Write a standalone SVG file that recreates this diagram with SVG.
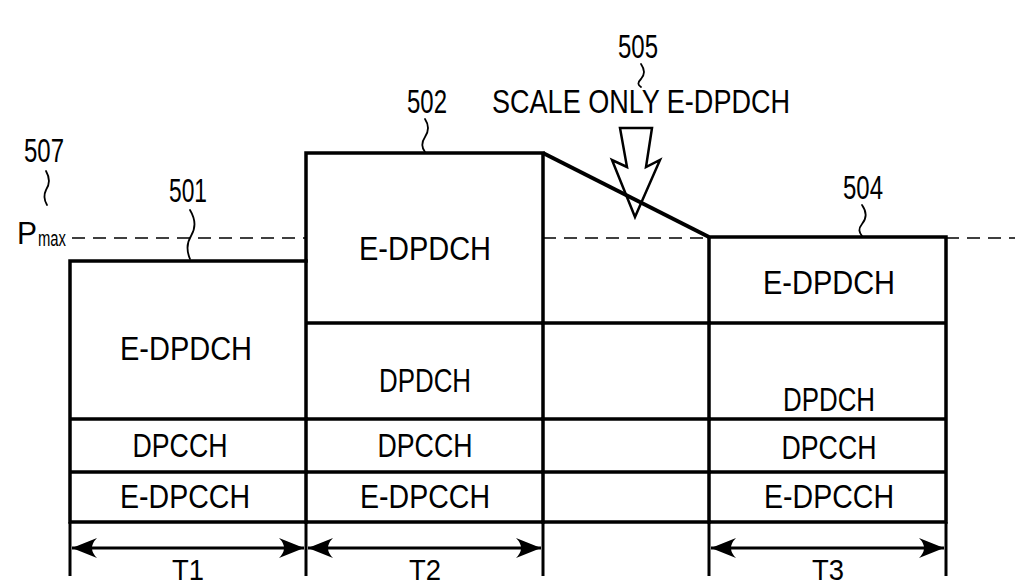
<svg xmlns="http://www.w3.org/2000/svg" width="1015" height="587" viewBox="0 0 1015 587">
<defs>
<style>
.t{font-family:"Liberation Sans",Arial,sans-serif;font-size:33px;fill:#000;text-anchor:middle}
.s{font-family:"Liberation Sans",Arial,sans-serif;fill:#000}
.b{fill:none;stroke:#000;stroke-width:3.5;stroke-linecap:square}
.l{fill:none;stroke:#000;stroke-width:3}
.d{fill:none;stroke:#000;stroke-width:1.6;stroke-dasharray:13 8}
.w{fill:none;stroke:#000;stroke-width:1.8;stroke-linecap:round}
</style>
<marker id="ah" viewBox="-26 -11 28 22" refX="0" refY="0" markerWidth="28" markerHeight="22" markerUnits="userSpaceOnUse" orient="auto-start-reverse">
<path d="M0,0 L-25,-10 Q-15,0 -25,10 Z" fill="#000"/>
</marker>
</defs>
<rect width="1015" height="587" fill="#fff"/>
<g id="pmax">
<path class="d" d="M72,238 H306 M543,238 H709 M946,238 H1015"/>
<text class="s" x="17" y="244" font-size="31" textLength="20" lengthAdjust="spacingAndGlyphs">P</text>
<text class="s" x="38" y="246" font-size="22" textLength="28" lengthAdjust="spacingAndGlyphs">max</text>
<text class="t" x="44" y="162" textLength="40" lengthAdjust="spacingAndGlyphs">507</text>
<path class="w" d="M46,171 C50,178 50,184 46,190 C43,196 44,200 47,205"/>
</g>
<g id="block1">
<path class="b" d="M70,261 H306 M70,261 V522 M70,419 H306 M70,472 H306 M70,522 H306"/>
<text class="t" x="186" y="360" textLength="132" lengthAdjust="spacingAndGlyphs">E-DPDCH</text>
<text class="t" x="180" y="457" textLength="95" lengthAdjust="spacingAndGlyphs">DPCCH</text>
<text class="t" x="185" y="508" textLength="130" lengthAdjust="spacingAndGlyphs">E-DPCCH</text>
<text class="t" x="188" y="202" textLength="38" lengthAdjust="spacingAndGlyphs">501</text>
<path class="w" d="M190,210 C196,220 196,228 191,236 C186,244 187,252 190,259"/>
</g>
<g id="block2">
<path class="b" d="M306,153 H543 M306,153 V522 M543,153 V522 M306,323 H543 M306,419 H543 M306,472 H543 M306,522 H543"/>
<text class="t" x="425" y="260" textLength="132" lengthAdjust="spacingAndGlyphs">E-DPDCH</text>
<text class="t" x="425" y="392" textLength="92" lengthAdjust="spacingAndGlyphs">DPDCH</text>
<text class="t" x="425" y="457" textLength="95" lengthAdjust="spacingAndGlyphs">DPCCH</text>
<text class="t" x="425" y="508" textLength="130" lengthAdjust="spacingAndGlyphs">E-DPCCH</text>
<text class="t" x="427" y="113" textLength="40" lengthAdjust="spacingAndGlyphs">502</text>
<path class="w" d="M425,119 C429,125 429,131 425,137 C421,143 422,148 425,152"/>
</g>
<g id="gap">
<path class="b" d="M543,323 H709 M543,419 H709 M543,472 H709 M543,522 H709"/>
</g>
<g id="block3">
<path class="b" d="M709,237 H946 M709,237 V522 M946,237 V522 M709,323 H946 M709,419 H946 M709,472 H946 M709,522 H946"/>
<text class="t" x="829" y="294" textLength="132" lengthAdjust="spacingAndGlyphs">E-DPDCH</text>
<text class="t" x="829" y="411" textLength="92" lengthAdjust="spacingAndGlyphs">DPDCH</text>
<text class="t" x="829" y="459" textLength="95" lengthAdjust="spacingAndGlyphs">DPCCH</text>
<text class="t" x="829" y="508" textLength="130" lengthAdjust="spacingAndGlyphs">E-DPCCH</text>
<text class="t" x="863" y="199" textLength="40" lengthAdjust="spacingAndGlyphs">504</text>
<path class="w" d="M862,205 C867,212 867,218 862,224 C858,229 859,232 862,236"/>
</g>
<g id="scale">
<text class="t" x="641" y="113" textLength="298" lengthAdjust="spacingAndGlyphs">SCALE ONLY E-DPDCH</text>
<text class="t" x="638" y="58" textLength="40" lengthAdjust="spacingAndGlyphs">505</text>
<path class="w" d="M641,64 C645,70 645,74 641,79 C637,83 638,85 641,87"/>
<path fill="none" stroke="#000" stroke-width="2.5" stroke-linejoin="miter" d="M620,128 H652 L646,167 L660,160 L635,217 L612,160 L627,167 Z"/>
</g>
<g id="connectors">
<path fill="none" stroke="#000" stroke-width="4" d="M543,153 L709,237"/>
<path class="l" d="M70,522 V576 M306,522 V576 M543,522 V576 M709,522 V576 M946,522 V576"/>
<path class="l" marker-start="url(#ah)" marker-end="url(#ah)" d="M72,548 H304"/>
<path class="l" marker-start="url(#ah)" marker-end="url(#ah)" d="M308,548 H541"/>
<path class="l" marker-start="url(#ah)" marker-end="url(#ah)" d="M711,548 H944"/>
</g>
<g id="labels">
<text class="t" x="188" y="580" font-size="30" style="font-size:30px" textLength="32" lengthAdjust="spacingAndGlyphs">T1</text>
<text class="t" x="425" y="580" style="font-size:30px" textLength="32" lengthAdjust="spacingAndGlyphs">T2</text>
<text class="t" x="828" y="580" style="font-size:30px" textLength="32" lengthAdjust="spacingAndGlyphs">T3</text>
</g>
</svg>
